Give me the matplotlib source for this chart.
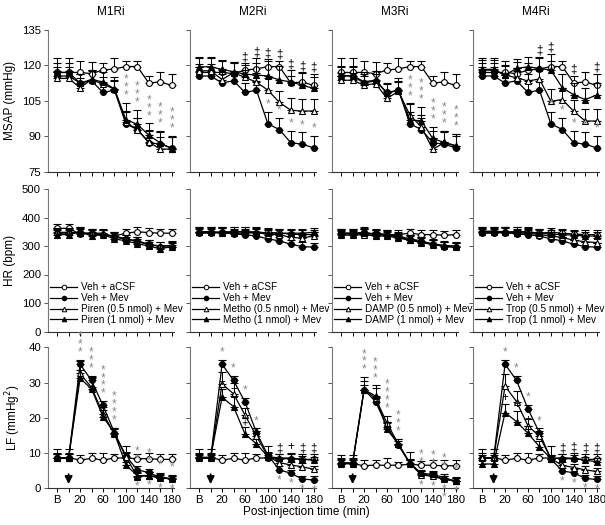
import numpy as np
import matplotlib
matplotlib.use("Agg")
import matplotlib.pyplot as plt
from matplotlib.lines import Line2D

plt.rcParams['font.family'] = ['Liberation Sans', 'DejaVu Sans']

# time points: B (baseline) then post-injection minutes
TIMES = [-20, 0, 20, 40, 60, 80, 100, 120, 140, 160, 180]
TICK_LABELS = ['B', '', '20', '', '60', '', '100', '', '140', '', '180']
RECEPTORS = ['M1Ri', 'M2Ri', 'M3Ri', 'M4Ri']
DRUGS = ['Piren', 'Metho', 'DAMP', 'Trop']

# ---- MSAP (mmHg) ----
MSAP_ACSF = [117, 117, 117, 116.5, 118, 118.5, 119.5, 119.5, 112.5, 113, 111.5]
MSAP_MEV = [115.5, 115.5, 112.5, 113.5, 108.5, 109.5, 95.2, 92.8, 87.2, 86.6, 85]
MSAP_LO = [
    [114.5, 114.5, 110.5, 114, 112, 110, 95.8, 92.8, 87.5, 84.5, 84.5],
    [117.7, 117.7, 114, 116.9, 114.9, 112.9, 109.5, 104.3, 101, 100.6, 100.7],
    [113.7, 113.7, 111.6, 112.3, 106, 109, 98.9, 93.9, 84.4, 87.3, 85.8],
    [118, 118, 116, 114.7, 113.4, 114.2, 104.8, 105.5, 100.5, 96.4, 96.4],
]
MSAP_HI = [
    [117, 117, 112.5, 114, 113, 110, 97, 95, 90.4, 87.1, 84.7],
    [119.4, 119.4, 118.3, 117.3, 116.3, 115.9, 115.5, 113.8, 113, 111.6, 110.2],
    [115.6, 115.6, 113.1, 113.7, 108.1, 109.5, 96.8, 96.5, 89, 87.3, 86],
    [118.3, 118.3, 115.9, 118.7, 119.4, 118.7, 118, 110.5, 107.5, 105.5, 107.4],
]
MSAP_ACSF_ERR = [6, 6, 5, 5, 3, 4.5, 2.5, 2.5, 3, 4, 5]
MSAP_MEV_ERR = [4, 4, 4, 4, 4, 4, 5, 5, 5, 5, 5]
MSAP_LO_ERR = [3, 3, 4, 4, 3, 4, 5, 5, 5, 5, 5]
MSAP_HI_ERR = [4, 4, 4, 4, 4, 5, 7, 6, 5, 5, 5]

# ---- HR (bpm) ----
HR_ACSF = [
    [362, 362, 342, 345, 340, 335, 345, 350, 347, 345, 345],
    [350, 350, 345, 350, 350, 345, 348, 345, 342, 340, 340],
    [345, 345, 340, 345, 340, 340, 345, 340, 340, 338, 340],
    [350, 350, 345, 350, 350, 345, 348, 345, 342, 340, 340],
]
HR_MEV = [345, 345, 348, 342, 340, 335, 325, 318, 306, 298, 296]
HR_LO = [
    [348, 348, 345, 345, 345, 330, 325, 315, 305, 300, 302],
    [350, 350, 345, 345, 345, 348, 340, 340, 330, 328, 335],
    [338, 338, 340, 335, 335, 328, 320, 312, 305, 300, 295],
    [348, 348, 348, 345, 345, 340, 335, 330, 320, 315, 312],
]
HR_HI = [
    [340, 340, 350, 335, 340, 325, 318, 308, 300, 290, 298],
    [348, 348, 350, 350, 350, 350, 345, 345, 345, 345, 348],
    [342, 342, 345, 340, 338, 330, 322, 315, 308, 302, 300],
    [352, 352, 350, 350, 348, 345, 342, 340, 338, 335, 335],
]
HR_ERR = [15, 15, 18, 15, 15, 15, 15, 15, 15, 15, 15]

# ---- LF (mmHg^2) ----
LF_ACSF = [
    [8.7, 8.7, 8, 8.5, 8, 8.6, 8.6, 8.4, 8.4, 8.2, 8.2],
    [8.7, 8.7, 8, 8.5, 8, 8.6, 8.6, 8.4, 8.4, 8.2, 8.2],
    [7, 7, 6.4, 6.6, 6.5, 6.6, 6.8, 6.6, 6.5, 6.4, 6.4],
    [8.7, 8.7, 8, 8.5, 8, 8.6, 8.6, 8.4, 8.4, 8.2, 8.2],
]
LF_MEV = [
    [8.5, 8.5, 35.2, 30.6, 23.5, 15.8, 9.2, 5.2, 4.5, 3, 2.6],
    [8.5, 8.5, 35.2, 30.6, 24.5, 15.8, 9.4, 5.2, 4.3, 2.6, 2.4],
    [7.2, 7.2, 28, 24.6, 17.5, 12.2, 7, 4, 3.6, 2.6, 2],
    [8.5, 8.5, 35.2, 30.6, 22.5, 15.8, 8.3, 4.9, 4.4, 2.8, 2.5],
]
LF_LO = [
    [8.7, 8.7, 32.6, 28.6, 21.2, 15.4, 9, 3.3, 3.6, 3.3, 2.6],
    [8.5, 8.5, 29.6, 26.8, 20.8, 14.8, 9, 7.3, 6.6, 6.1, 5.4],
    [7, 7, 28, 25.5, 18.5, 12.5, 7, 3.8, 3.4, 2.5, 2.2],
    [8.5, 8.5, 29, 24.6, 17.7, 14.8, 8.4, 6.5, 5.9, 5.2, 4.8],
]
LF_HI = [
    [8.6, 8.6, 31.2, 28.2, 20.3, 15.6, 6.6, 3.6, 3.6, 2.8, 2.8],
    [8.8, 8.8, 25.8, 23.2, 15.4, 12.6, 9, 8.6, 8.6, 8.2, 8],
    [7.2, 7.2, 28, 26.2, 16.7, 12.6, 7.2, 4.2, 4, 3, 2],
    [6.9, 6.9, 21.5, 18.9, 15.6, 11.8, 8.4, 8.7, 8.5, 7.9, 7.6],
]
LF_ACSF_ERR = [2.5, 2.5, 1.5, 1.5, 2, 1, 3.5, 1.2, 1.5, 1.5, 1.5]
LF_MEV_ERR = [1.5, 1.5, 1.2, 1.2, 1.2, 1.2, 1, 1, 1, 1, 1]
LF_LO_ERR = [1, 1, 3.5, 3, 2, 1.5, 1, 1, 1, 1, 1]
LF_HI_ERR = [1, 1, 2.5, 3, 2, 1.5, 1, 1, 1, 1, 1]

# significance marks: (anchor series, {time index: text}, colour)
S3 = '*\n*\n*'
MSAP_SIG = [
    [('top3', {6: S3, 7: S3, 8: S3, 9: S3, 10: S3}, 'grey')],
    [('mev', {6: '*', 7: '*', 8: '*', 9: '*', 10: '*'}, 'grey'),
     ('top', {4: '‡', 5: '‡', 6: '‡', 7: '‡', 8: '‡', 9: '‡', 10: '‡'}, 'k')],
    [('top3', {6: S3, 7: S3, 8: S3, 9: S3, 10: S3}, 'grey')],
    [('mev', {6: '*', 7: '*', 8: '*', 9: '*', 10: '*'}, 'grey'),
     ('top', {5: '‡', 6: '‡', 8: '‡', 10: '‡'}, 'k')],
]
LF_SIG = [
    [('top3', {2: S3, 3: S3, 4: '*\n' + S3, 5: '*\n' + S3}, 'grey'),
     ('top3', {7: '*\n*', 8: '*\n*', 9: '*', 10: '*'}, 'grey'),
     ('below', {7: '*', 8: '*', 9: '*', 10: '*'}, 'grey')],
    [('mev', {2: '*', 3: '*', 4: '*', 5: '*'}, 'grey'),
     ('hi', {2: '+', 3: '+', 4: '‡', 5: '+'}, 'k'),
     ('below', {7: '*', 8: '*', 9: '*', 10: '*'}, 'grey'),
     ('top', {7: '‡', 8: '+', 9: '‡', 10: '‡'}, 'k')],
    [('top3', {2: S3, 3: S3, 4: '*\n' + S3, 5: S3}, 'grey'),
     ('top3', {7: '*\n*', 8: '*\n*', 9: '*\n*', 10: '*'}, 'grey'),
     ('below', {7: '*', 8: '*', 9: '*\n*', 10: '*'}, 'grey')],
    [('mev', {2: '*', 3: '*', 4: '*', 5: '*'}, 'grey'),
     ('hi', {2: '+', 3: '+', 4: '+', 5: '+'}, 'k'),
     ('below', {7: '*', 8: '*', 9: '*', 10: '*'}, 'grey'),
     ('top', {7: '‡', 8: '‡', 9: '‡', 10: '‡'}, 'k')],
]

ROW_LABELS = ['MSAP (mmHg)', 'HR (bpm)', 'LF (mmHg$^2$)']
ROW_LIMS = [(75, 135), (0, 500), (0, 40)]
ROW_TICKS = [[75, 90, 105, 120, 135], [0, 100, 200, 300, 400, 500], [0, 10, 20, 30, 40]]


def row_data(row, p):
    if row == 0:
        return ([MSAP_ACSF, MSAP_MEV, MSAP_LO[p], MSAP_HI[p]],
                [MSAP_ACSF_ERR, MSAP_MEV_ERR, MSAP_LO_ERR, MSAP_HI_ERR])
    if row == 1:
        return ([HR_ACSF[p], HR_MEV, HR_LO[p], HR_HI[p]], [HR_ERR] * 4)
    return ([LF_ACSF[p], LF_MEV[p], LF_LO[p], LF_HI[p]],
            [LF_ACSF_ERR, LF_MEV_ERR, LF_LO_ERR, LF_HI_ERR])


STYLES = [dict(marker='o', mfc='white', ms=4.2),
          dict(marker='o', mfc='black', ms=4.2),
          dict(marker='^', mfc='white', ms=4.6),
          dict(marker='^', mfc='black', ms=4.6)]

W, H = 605, 525
fig = plt.figure(figsize=(W / 100, H / 100), dpi=100)
lefts = [48, 190, 332, 473]
rows = [(30, 171.5), (189, 331.5), (347.3, 488.3)]

for r, (top, bot) in enumerate(rows):
    for p, lx in enumerate(lefts):
        ax = fig.add_axes([lx / W, 1 - bot / H, 126 / W, (bot - top) / H])
        ax.patch.set_alpha(0)
        vals, errs = row_data(r, p)
        t = np.array(TIMES)
        for k, (v, e) in enumerate(zip(vals, errs)):
            v = np.array(v, float)
            e = np.array(e, float)
            ax.errorbar(t, v, yerr=[np.zeros_like(e), e], color='k', lw=0.9,
                        elinewidth=0.75, capsize=3, capthick=0.75, mec='k',
                        mew=0.8, clip_on=False, zorder=3 + k, **STYLES[k])
        ax.set_xlim(-36, 184)
        ax.set_ylim(*ROW_LIMS[r])
        ax.set_yticks(ROW_TICKS[r])
        ax.set_xticks(TIMES)
        for s in ['top', 'right']:
            ax.spines[s].set_visible(False)
        ax.spines['left'].set_color('#777777')
        ax.spines['bottom'].set_color('#333333')
        ax.tick_params(axis='both', direction='out', length=3, width=0.7,
                       labelsize=8.2, pad=2)
        ax.tick_params(axis='y', colors='#555555', labelcolor='k')
        if p == 0:
            ax.set_ylabel(ROW_LABELS[r], fontsize=8.5, labelpad=4)
        else:
            ax.set_yticklabels([])
        if r == 2:
            ax.set_xticklabels(TICK_LABELS)
        else:
            ax.set_xticklabels([])
        if r == 0:
            ax.set_title(RECEPTORS[p], fontsize=8.5, pad=11)

        # significance marks
        sigs = MSAP_SIG[p] if r == 0 else (LF_SIG[p] if r == 2 else [])
        va = np.array(vals, float)
        up = va + np.array(errs, float)
        for anchor, marks, col in sigs:
            for i, txt in marks.items():
                if anchor == 'top3':
                    y, dy, vert = up[1:, i].max(), 1, 'bottom'
                elif anchor == 'top':
                    y, dy, vert = up[:, i].max(), 0, 'bottom'
                elif anchor == 'mev':
                    y, dy, vert = up[1, i], 1, 'bottom'
                elif anchor == 'hi':
                    y, dy, vert = up[3, i], 0, 'bottom'
                else:
                    y, dy, vert = va[1:, i].min(), -3, 'top'
                ax.annotate(txt, (TIMES[i], y), xytext=(0, dy),
                            textcoords='offset points', ha='center', va=vert,
                            fontsize=8.5 if col == 'grey' else 8.5,
                            color='#8a8a8a' if col == 'grey' else 'k',
                            linespacing=0.55, annotation_clip=False, zorder=8)

        if r == 1:
            names = ['Veh + aCSF', 'Veh + Mev',
                     f'{DRUGS[p]} (0.5 nmol) + Mev', f'{DRUGS[p]} (1 nmol) + Mev']
            handles = [Line2D([], [], color='k', lw=0.9, mec='k', mew=0.7,
                              **{**STYLES[k], 'ms': 3.3}) for k in range(4)]
            ax.legend(handles, names, loc='lower left', bbox_to_anchor=(0.01, 0.04),
                      frameon=False, fontsize=7.2, labelspacing=0.08,
                      handlelength=2.7, handletextpad=0.4, borderaxespad=0,
                      borderpad=0.1)
        if r == 2:
            ax.annotate('', xy=(0, 0.4), xytext=(0, 4.8),
                        arrowprops=dict(arrowstyle='-|>', color='k', lw=1.3,
                                        mutation_scale=11), zorder=9)

fig.text(306 / W, 1 - 512 / H, 'Post-injection time (min)', ha='center',
         va='center', fontsize=8.5)
fig.savefig('out.png', dpi=100)
